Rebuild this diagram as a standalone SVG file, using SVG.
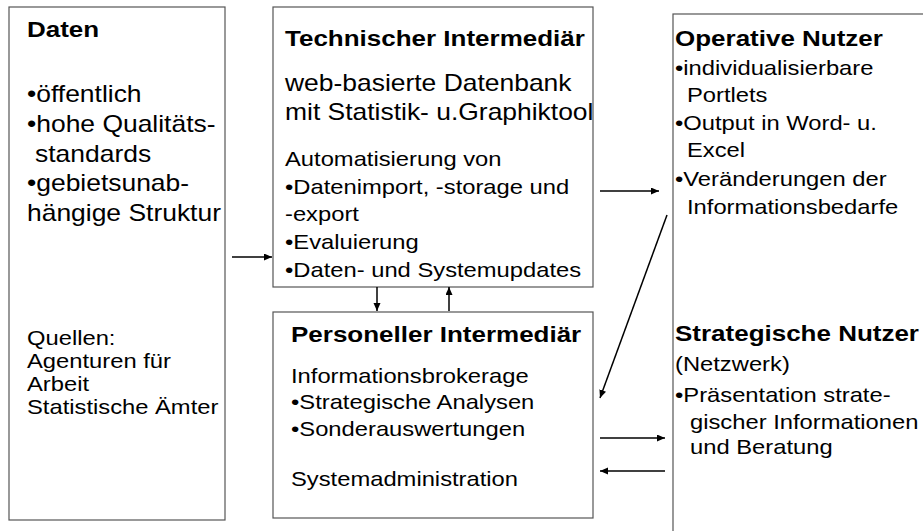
<svg xmlns="http://www.w3.org/2000/svg" width="923" height="531" viewBox="0 0 923 531">
<style>
.box{fill:#fff;stroke:#555;stroke-width:1.2}
text{font-family:"Liberation Sans",Arial,sans-serif;fill:#000}
.t{font-weight:bold;font-size:22.6px}
.b{font-size:23px}
.s{font-size:19.8px}
.c{stroke:#000;stroke-width:1.5;fill:none;marker-end:url(#ah)}
</style>
<defs>
<marker id="ah" markerUnits="userSpaceOnUse" markerWidth="9" markerHeight="8" refX="8" refY="3.5" orient="auto">
<path d="M0,0 L8,3.5 L0,7 z" fill="#000"/>
</marker>
</defs>
<rect width="923" height="531" fill="#fff"/>
<g id="daten">
<rect class="box" x="9" y="7" width="216" height="513"/>
<g transform="translate(27,0) scale(1.15,1)">
<text class="t" x="0" y="37">Daten</text>
<text class="b" x="0" y="102">•öffentlich</text>
<text class="b" x="0" y="132">•hohe Qualitäts-</text>
<text class="b" x="7" y="162">standards</text>
<text class="b" x="0" y="191">•gebietsunab-</text>
<text class="b" x="0" y="221">hängige Struktur</text>
</g>
<g transform="translate(27,0) scale(1.2,1)">
<text class="s" x="0" y="345">Quellen:</text>
<text class="s" x="0" y="368">Agenturen für</text>
<text class="s" x="0" y="391">Arbeit</text>
<text class="s" x="0" y="414">Statistische Ämter</text>
</g>
</g>
<g id="technischer-intermediaer">
<rect class="box" x="273" y="7" width="320" height="280"/>
<g transform="translate(285,0) scale(1.15,1)">
<text class="t" x="0" y="46">Technischer Intermediär</text>
<text class="b" x="0" y="91">web-basierte Datenbank</text>
<text class="b" x="0" y="120">mit Statistik- u.Graphiktool</text>
</g>
<g transform="translate(285,0) scale(1.2,1)">
<text class="s" x="0" y="166">Automatisierung von</text>
<text class="s" x="0" y="194">•Datenimport, -storage und</text>
<text class="s" x="0" y="221">-export</text>
<text class="s" x="0" y="249">•Evaluierung</text>
<text class="s" x="0" y="277">•Daten- und Systemupdates</text>
</g>
</g>
<g id="personeller-intermediaer">
<rect class="box" x="273" y="312" width="320" height="206"/>
<g transform="translate(291,0) scale(1.15,1)">
<text class="t" x="0" y="342">Personeller Intermediär</text>
</g>
<g transform="translate(291,0) scale(1.2,1)">
<text class="s" x="0" y="383">Informationsbrokerage</text>
<text class="s" x="0" y="409">•Strategische Analysen</text>
<text class="s" x="0" y="436">•Sonderauswertungen</text>
<text class="s" x="0" y="486">Systemadministration</text>
</g>
</g>
<g id="nutzer">
<rect class="box" x="673" y="14" width="300" height="560"/>
<g id="operative-nutzer">
<g transform="translate(675,0) scale(1.15,1)">
<text class="t" x="0" y="46">Operative Nutzer</text>
</g>
<g transform="translate(675,0) scale(1.2,1)">
<text class="s" x="0" y="75">•individualisierbare</text>
<text class="s" x="10" y="102">Portlets</text>
<text class="s" x="0" y="130">•Output in Word- u.</text>
<text class="s" x="10" y="157">Excel</text>
<text class="s" x="0" y="186">•Veränderungen der</text>
<text class="s" x="10" y="214">Informationsbedarfe</text>
</g>
</g>
<g id="strategische-nutzer">
<g transform="translate(675,0) scale(1.15,1)">
<text class="t" x="0" y="341">Strategische Nutzer</text>
</g>
<g transform="translate(675,0) scale(1.2,1)">
<text class="s" x="0" y="371">(Netzwerk)</text>
<text class="s" x="0" y="402">•Präsentation strate-</text>
<text class="s" x="12.5" y="429">gischer Informationen</text>
<text class="s" x="12.5" y="454">und Beratung</text>
</g>
</g>
</g>
<g id="connectors">
<line class="c" x1="232" y1="257" x2="272" y2="257"/>
<line class="c" x1="600" y1="191" x2="659" y2="191"/>
<line class="c" x1="667" y1="215" x2="600" y2="398"/>
<line class="c" x1="377" y1="287" x2="377" y2="311"/>
<line class="c" x1="449" y1="311" x2="449" y2="287"/>
<line class="c" x1="600" y1="438" x2="665" y2="438"/>
<line class="c" x1="665" y1="471" x2="600" y2="471"/>
</g>
</svg>
